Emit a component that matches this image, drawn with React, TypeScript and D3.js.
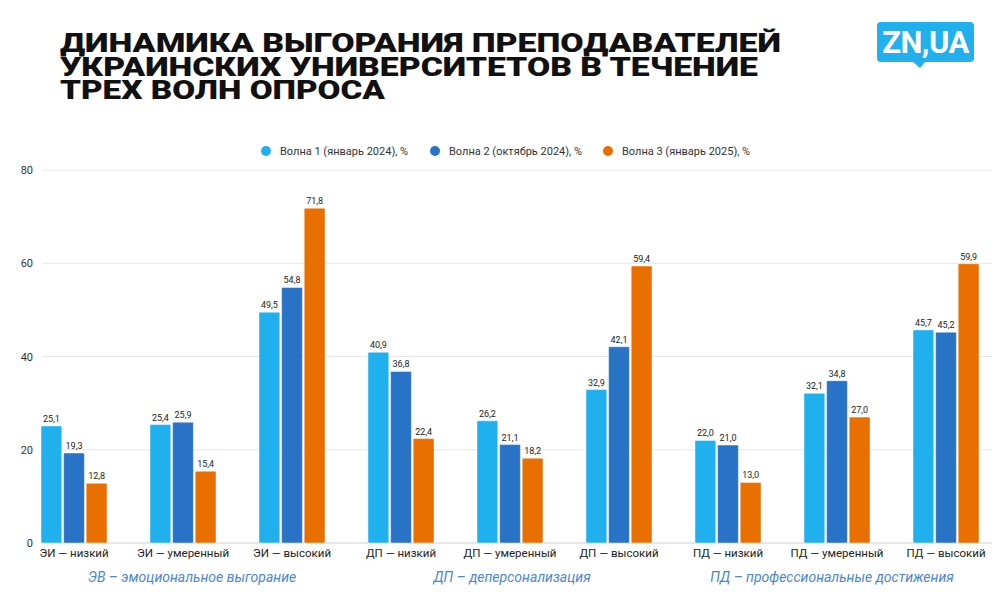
import React from "react";
import * as d3 from "d3";

const categories = [
  "ЭИ — низкий", "ЭИ — умеренный", "ЭИ — высокий",
  "ДП — низкий", "ДП — умеренный", "ДП — высокий",
  "ПД — низкий", "ПД — умеренный", "ПД — высокий",
];
const seriesNames = [
  "Волна 1 (январь 2024), %",
  "Волна 2 (октябрь 2024), %",
  "Волна 3 (январь 2025), %",
];
const wave1 = [25.1, 25.4, 49.5, 40.9, 26.2, 32.9, 22.0, 32.1, 45.7];
const wave2 = [19.3, 25.9, 54.8, 36.8, 21.1, 42.1, 21.0, 34.8, 45.2];
const wave3 = [12.8, 15.4, 71.8, 22.4, 18.2, 59.4, 13.0, 27.0, 59.9];
const seriesColors = ["#1fb0ed", "#2873c5", "#e86f00"];
const yTicks = [0, 20, 40, 60, 80];
const groupLabels = [
  "ЭВ – эмоциональное выгорание",
  "ДП – деперсонализация",
  "ПД – профессиональные достижения",
];
const groupLabelAt = [1, 4, 7];
const groupLabelShift = [9, 2, -5];
const titleLines = [
  "ДИНАМИКА ВЫГОРАНИЯ ПРЕПОДАВАТЕЛЕЙ",
  "УКРАИНСКИХ УНИВЕРСИТЕТОВ В ТЕЧЕНИЕ",
  "ТРЕХ ВОЛН ОПРОСА",
];
const titleWidths = [721, 698, 325];

const W = 1000;
const H = 600;
const font = "Roboto, 'Noto Sans', sans-serif";

export default function App() {
  const series = [wave1, wave2, wave3];
  const x0 = d3.scaleBand<string>().domain(categories).range([19.5, 1000.5]).padding(0);
  const x1 = d3.scaleBand<number>().domain([0, 1, 2]).range([0, 66]).paddingInner(0.08);
  const y = d3.scaleLinear().domain([0, 80]).range([543, 170]);
  const fmt = (v: number) => v.toFixed(1).replace(".", ",");
  const plotLeft = 42;
  const plotRight = 992;
  const legendX = [266, 435, 608];

  return (
    <svg width={W} height={H} style={{ position: "absolute", left: 0, top: 0, background: "#fff" }}>
      <rect width={W} height={H} fill="#fff" />
      {/* Title */}
      <text fontFamily={font} fontWeight={900} fontSize={26} fill="#111">
        {titleLines.map((t, i) => (
          <tspan key={i} x={60} y={52 + i * 23.5} textLength={titleWidths[i]} lengthAdjust="spacingAndGlyphs">{t}</tspan>
        ))}
      </text>
      {/* Logo */}
      <g>
        <rect x={877} y={22} width={97} height={40} rx={4} fill="#1fb0ed" />
        <path d="M912,61 L920,68 L926,61 Z" fill="#1fb0ed" />
        <text x={925.5} y={53} textAnchor="middle" fontFamily={font} fontWeight={700} fontSize={31} fill="#fff" letterSpacing={-0.5}>ZN,UA</text>
      </g>
      {/* Legend */}
      <g fontFamily={font} fontSize={11} fill="#333">
        {seriesNames.map((s, i) => (
          <g key={s}>
            <circle cx={legendX[i]} cy={151} r={5} fill={seriesColors[i]} />
            <text x={legendX[i] + 14} y={155}>{s}</text>
          </g>
        ))}
      </g>
      {/* Grid and y axis */}
      <g fontFamily={font} fontSize={11} fill="#333">
        {yTicks.map((t) => (
          <g key={t}>
            <line x1={plotLeft} x2={plotRight} y1={y(t)} y2={y(t)} stroke={t === 0 ? "#d0d0d0" : "#e6e6e6"} strokeWidth={1} />
            <text x={33} y={y(t) + 4} textAnchor="end">{t}</text>
          </g>
        ))}
      </g>
      {/* Bars */}
      {categories.map((c, ci) => {
        const gx = (x0(c) as number) + x0.bandwidth() / 2 - 33;
        return (
          <g key={c} transform={`translate(${gx},0)`}>
            {series.map((vals, si) => {
              const bx = x1(si) as number;
              const bw = x1.bandwidth();
              const top = y(vals[ci]);
              return (
                <g key={si}>
                  <rect x={bx} y={top} width={bw} height={y(0) - top} fill={seriesColors[si]} stroke="rgba(255,255,255,0.45)" strokeWidth={1} rx={1} />
                  <text x={bx + bw / 2} y={top - 4} textAnchor="middle" fontFamily={font} fontSize={9} fill="#222">{fmt(vals[ci])}</text>
                </g>
              );
            })}
          </g>
        );
      })}
      {/* X tick labels */}
      <g fontFamily={font} fontSize={11.5} fill="#222">
        {categories.map((c) => (
          <text key={c} x={(x0(c) as number) + x0.bandwidth() / 2} y={557} textAnchor="middle">{c}</text>
        ))}
      </g>
      {/* Group labels */}
      <g fontFamily={font} fontSize={14} fontStyle="italic" fill="#4a86d4">
        {groupLabels.map((g, i) => (
          <text key={g} x={(x0(categories[groupLabelAt[i]]) as number) + x0.bandwidth() / 2 + groupLabelShift[i]} y={582} textAnchor="middle">{g}</text>
        ))}
      </g>
    </svg>
  );
}
